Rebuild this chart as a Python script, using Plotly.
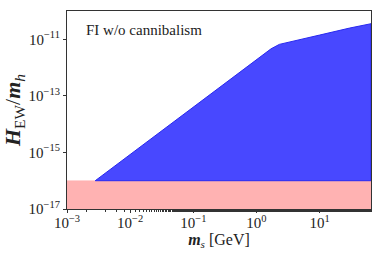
import plotly.graph_objects as go

# Boundary of the blue region (upper edge)
ms_edge = [2.8e-3, 1e-2, 1e-1, 1.0, 1.7, 2.3, 4.0, 10.0, 30.0, 65.0]
h_edge = [1.0e-16, 8.5e-16, 4.1e-14, 1.95e-12, 4.6e-12, 6.6e-12, 8.6e-12, 1.41e-11, 2.5e-11, 3.55e-11]

# Pink band (lower region)
ms_min, ms_max = 1e-3, 65.0
h_band_low, h_band_high = 1e-17, 1e-16

x_ticks = [1e-3, 1e-2, 1e-1, 1.0, 10.0]
x_labels = ["10<sup>−3</sup>", "10<sup>−2</sup>", "10<sup>−1</sup>", "10<sup>0</sup>", "10<sup>1</sup>"]
y_ticks = [1e-17, 1e-15, 1e-13, 1e-11]
y_labels = ["10<sup>−17</sup>", "10<sup>−15</sup>", "10<sup>−13</sup>", "10<sup>−11</sup>"]

font_family = "Liberation Serif"

fig = go.Figure()

fig.add_trace(go.Scatter(
    x=[ms_min, ms_max, ms_max, ms_min, ms_min],
    y=[h_band_low, h_band_low, h_band_high, h_band_high, h_band_low],
    fill="toself", mode="lines",
    fillcolor="rgb(255,178,178)", line=dict(color="rgb(255,178,178)", width=0.5),
    hoverinfo="skip", showlegend=False,
))

poly_x = ms_edge + [ms_edge[-1], ms_edge[0]]
poly_y = h_edge + [h_band_high, h_band_high]
fig.add_trace(go.Scatter(
    x=poly_x, y=poly_y,
    fill="toself", mode="lines",
    fillcolor="rgb(72,72,255)", line=dict(color="rgb(40,40,240)", width=1),
    hoverinfo="skip", showlegend=False,
))

fig.add_annotation(
    x=0.055, y=0.905, xref="paper", yref="paper", xanchor="left", yanchor="middle",
    text="FI w/o cannibalism", showarrow=False,
    font=dict(family=font_family, size=15, color="#222"),
)

fig.update_layout(
    width=382, height=255,
    margin=dict(l=66, r=10, t=10, b=46),
    paper_bgcolor="white", plot_bgcolor="white",
    font=dict(family=font_family, size=15, color="#222"),
    xaxis=dict(
        type="log", range=[-3, 1.813],
        tickvals=x_ticks, ticktext=x_labels,
        ticks="outside", ticklen=3, tickcolor="#333",
        ticklabelstandoff=-3,
        minor=dict(ticks="outside", ticklen=2, tickcolor="#333", showgrid=False),
        showline=True, linecolor="#333", linewidth=1, mirror=True,
        showgrid=False, zeroline=False,
        title=dict(text="<b><i>m</i></b><sub><i>s</i></sub> [GeV]", standoff=3,
                   font=dict(family=font_family, size=16)),
    ),
    yaxis=dict(
        type="log", range=[-17, -10],
        tickvals=y_ticks, ticktext=y_labels,
        ticks="outside", ticklen=3, tickcolor="#333",
        showline=True, linecolor="#333", linewidth=1, mirror=True,
        showgrid=False, zeroline=False,
        title=dict(text="<b><i>H</i></b><sub>EW</sub>/<b><i>m</i></b><sub><i>h</i></sub>", standoff=3,
                   font=dict(family=font_family, size=22)),
    ),
)

fig.write_html("out.html", config={"displayModeBar": False},
               post_script="document.body.style.margin='0';")
